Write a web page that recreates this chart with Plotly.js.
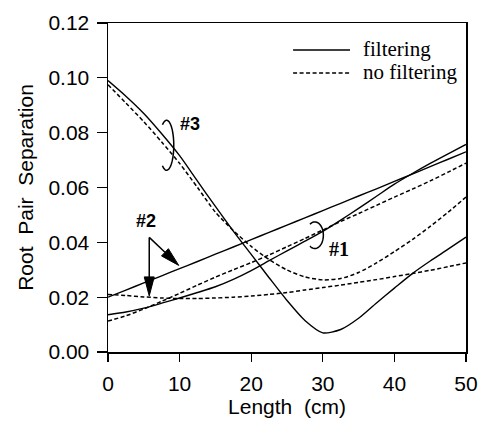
<!DOCTYPE html>
<html><head><meta charset="utf-8">
<script src="https://cdn.plot.ly/plotly-3.0.1.min.js"></script>
<style>html,body{margin:0;padding:0;background:#fff}#chart{width:482px;height:429px}</style>
</head><body><div id="chart"></div>
<script>
// Length (cm)
const lengthCm = [0, 2.5, 5, 7.5, 10, 12.5, 15, 17.5, 20, 22.5, 25, 27.5, 30, 32.5, 35, 37.5, 40, 42.5, 45, 47.5, 50];
// Root pair separation, pair #1
const filtering1   = [0.0136, 0.0146, 0.0160, 0.0178, 0.0197, 0.0217, 0.0238, 0.0265, 0.0297, 0.0333, 0.0369, 0.0404, 0.0440, 0.0481, 0.0524, 0.0568, 0.0612, 0.0651, 0.0688, 0.0723, 0.0757];
const noFiltering1 = [0.0113, 0.0132, 0.0157, 0.0185, 0.0214, 0.0244, 0.0273, 0.0300, 0.0326, 0.0354, 0.0384, 0.0414, 0.0445, 0.0476, 0.0505, 0.0535, 0.0565, 0.0594, 0.0624, 0.0656, 0.0689];
// pair #2
const filtering2   = [0.0200, 0.0226, 0.0252, 0.0278, 0.0304, 0.0330, 0.0357, 0.0383, 0.0410, 0.0436, 0.0463, 0.0489, 0.0516, 0.0542, 0.0569, 0.0595, 0.0622, 0.0649, 0.0676, 0.0703, 0.0730];
const noFiltering2 = [0.0210, 0.0206, 0.0201, 0.0197, 0.0195, 0.0195, 0.0197, 0.0200, 0.0204, 0.0210, 0.0217, 0.0226, 0.0235, 0.0244, 0.0254, 0.0264, 0.0275, 0.0286, 0.0298, 0.0311, 0.0325];
// pair #3
const filtering3   = [0.0990, 0.0933, 0.0870, 0.0796, 0.0716, 0.0623, 0.0531, 0.0441, 0.0356, 0.0271, 0.0188, 0.0115, 0.0070, 0.0082, 0.0123, 0.0179, 0.0233, 0.0286, 0.0332, 0.0375, 0.0419];
const noFiltering3 = [0.0975, 0.0908, 0.0840, 0.0766, 0.0688, 0.0600, 0.0510, 0.0443, 0.0385, 0.0337, 0.0299, 0.0274, 0.0263, 0.0268, 0.0290, 0.0325, 0.0366, 0.0410, 0.0458, 0.0510, 0.0565];

const xTicks = [0, 10, 20, 30, 40, 50];
const yTicks = [0.00, 0.02, 0.04, 0.06, 0.08, 0.10, 0.12];
const legendLabels = ['filtering', 'no filtering'];
const pairLabels = ['#1', '#2', '#3'];

const SOLID = {color: '#000', width: 1.4, shape: 'spline', smoothing: 0.7};
const DASH = {color: '#000', width: 1.5, dash: '4px,2.5px', shape: 'spline', smoothing: 0.7};

function tr(y, line, name, group) {
  return {x: lengthCm, y: y, type: 'scatter', mode: 'lines', line: line, name: name,
          legendgroup: group, showlegend: false, hoverinfo: 'x+y'};
}
const data = [
  tr(filtering1, SOLID, 'filtering #1', 'f'),
  tr(filtering2, SOLID, 'filtering #2', 'f'),
  tr(filtering3, SOLID, 'filtering #3', 'f'),
  tr(noFiltering1, DASH, 'no filtering #1', 'n'),
  tr(noFiltering2, DASH, 'no filtering #2', 'n'),
  tr(noFiltering3, DASH, 'no filtering #3', 'n')
];

// decorations (brackets, arrows) drawn in pixel offsets around an anchor
function arcPath(rx, ry, t0, t1) {
  let s = '';
  for (let i = 0; i <= 48; i++) {
    const t = (t0 + (t1 - t0) * i / 48) * Math.PI / 180;
    s += (i ? 'L' : 'M') + (rx * Math.cos(t)).toFixed(2) + ',' + (ry * Math.sin(t)).toFixed(2);
  }
  return s;
}
function arrow(ax, ay, dx, dy) {
  const L = 19, w = 5;
  const len = Math.hypot(dx, dy), ux = dx / len, uy = dy / len;
  const bx = dx - ux * L, by = dy - uy * L;
  const px = -uy, py = ux;
  const common = {type: 'path', xref: 'x', yref: 'y', xsizemode: 'pixel', ysizemode: 'pixel', xanchor: ax, yanchor: ay};
  return [
    Object.assign({}, common, {path: 'M0,0L' + bx.toFixed(2) + ',' + by.toFixed(2), line: {color: '#000', width: 1.5}}),
    Object.assign({}, common, {path: 'M' + dx + ',' + dy + 'L' + (bx + px * w).toFixed(2) + ',' + (by + py * w).toFixed(2) +
      'L' + (bx - px * w).toFixed(2) + ',' + (by - py * w).toFixed(2) + 'Z', fillcolor: '#000', line: {color: '#000', width: 1}})
  ];
}
const shapes = [
  {type: 'path', xref: 'x', yref: 'y', xsizemode: 'pixel', ysizemode: 'pixel', xanchor: 8.18, yanchor: 0.0754,
   path: arcPath(7.2, 25, -125, 125), line: {color: '#000', width: 1.5}},
  {type: 'path', xref: 'x', yref: 'y', xsizemode: 'pixel', ysizemode: 'pixel', xanchor: 28.89, yanchor: 0.0426,
   path: arcPath(8.5, 13.3, -125, 125), line: {color: '#000', width: 1.5}}
].concat(arrow(5.76, 0.0418, 0, -58.5), arrow(5.76, 0.0418, 29.5, -28));

// hand-drawn legend
shapes.push({type: 'line', xref: 'paper', yref: 'paper', x0: 0.517, x1: 0.676, y0: 0.918, y1: 0.918, line: {color: '#000', width: 1.4}});
shapes.push({type: 'line', xref: 'paper', yref: 'paper', x0: 0.517, x1: 0.676, y0: 0.848, y1: 0.848, line: {color: '#000', width: 1.5, dash: '4px,2.5px'}});

const serif = 'Liberation Serif, Times New Roman, serif';
const sans = 'Liberation Sans, Arial, Helvetica, sans-serif';
const annotations = [
  {xref: 'paper', yref: 'paper', x: 0.707, y: 0.920, xanchor: 'left', yanchor: 'middle', text: legendLabels[0], showarrow: false, font: {family: serif, size: 21, color: '#000'}},
  {xref: 'paper', yref: 'paper', x: 0.707, y: 0.850, xanchor: 'left', yanchor: 'middle', text: legendLabels[1], showarrow: false, font: {family: serif, size: 21, color: '#000'}},
  {x: 32.2, y: 0.0374, text: pairLabels[0], showarrow: false, font: {family: serif, size: 20, color: '#000', weight: 'bold'}},
  {x: 5.25, y: 0.0477, text: pairLabels[1], showarrow: false, font: {family: sans, size: 18, color: '#000', weight: 'bold'}},
  {x: 11.43, y: 0.0832, text: pairLabels[2], showarrow: false, font: {family: sans, size: 18, color: '#000', weight: 'bold'}}
];

const layout = {
  width: 482, height: 429,
  margin: {l: 108, r: 16, t: 23, b: 77},
  paper_bgcolor: '#fff', plot_bgcolor: '#fff',
  showlegend: false,
  font: {family: sans, color: '#000'},
  xaxis: {
    range: [0, 50], tickvals: xTicks, ticktext: xTicks.map(String),
    ticks: 'outside', ticklen: 8, tickwidth: 1.3, tickcolor: '#000',
    showline: true, linecolor: '#000', linewidth: 1.5, mirror: true,
    showgrid: false, zeroline: false, ticklabelstandoff: 4,
    tickfont: {family: sans, size: 21, color: '#000'},
    title: {text: 'Length  (cm)', font: {family: sans, size: 21, color: '#000'}, standoff: 5}
  },
  yaxis: {
    range: [0, 0.12], tickvals: yTicks, ticktext: yTicks.map(v => v.toFixed(2)),
    ticks: 'outside', ticklen: 10, tickwidth: 1.3, tickcolor: '#000',
    showline: true, linecolor: '#000', linewidth: 1.5, mirror: true,
    showgrid: false, zeroline: false, ticklabelstandoff: 3,
    tickfont: {family: sans, size: 21, color: '#000'},
    title: {text: 'Root  Pair  Separation', font: {family: sans, size: 21, color: '#000'}, standoff: 9}
  },
  shapes: shapes,
  annotations: annotations
};
Plotly.newPlot('chart', data, layout, {staticPlot: true, displayModeBar: false});
</script>
</body></html>
